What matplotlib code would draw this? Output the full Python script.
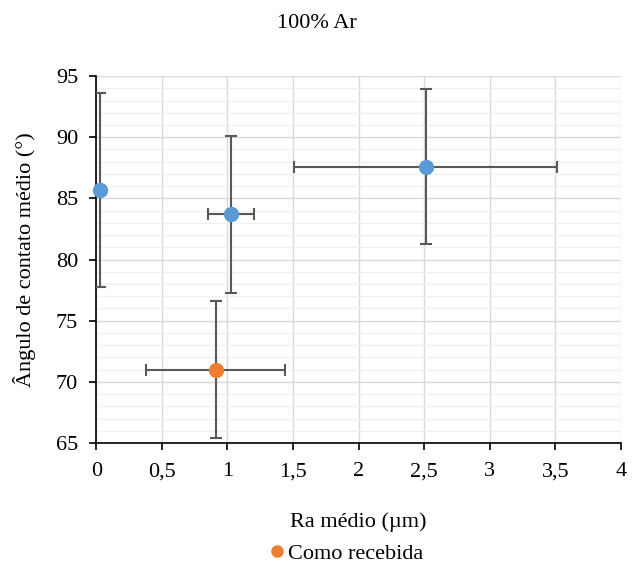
import numpy as np
import matplotlib.pyplot as plt
from matplotlib.ticker import MultipleLocator, FuncFormatter

# tratadas (azul)
ra_trat = [0.03, 1.03, 2.51]
ang_trat = [85.7, 83.7, 87.6]
ra_trat_err = [0.0, 0.175, 1.0]
ang_trat_err = [7.95, 6.4, 6.35]

# como recebida (laranja)
ra_rec = [0.91]
ang_rec = [71.0]
ra_rec_err = [0.53]
ang_rec_err = [5.6]

plt.rcParams['font.family'] = ['Liberation Serif', 'DejaVu Serif']
plt.rcParams['font.size'] = 16

fig = plt.figure(figsize=(6.33, 5.68), dpi=100)
ax = fig.add_axes([0.152, 0.22, 0.829, 0.646])

errcol = '#595959'
for art in [
    ax.errorbar(ra_trat, ang_trat, xerr=ra_trat_err, yerr=ang_trat_err, fmt='o',
                color='#5B9BD5', markersize=10, ecolor=errcol, elinewidth=1.5,
                capsize=4.5, capthick=1.5, zorder=3),
    ax.errorbar(ra_rec, ang_rec, xerr=ra_rec_err, yerr=ang_rec_err, fmt='o',
                color='#ED7D31', markersize=10, ecolor=errcol, elinewidth=1.5,
                capsize=4.5, capthick=1.5, zorder=3, label='Como recebida')]:
    art[0].set_clip_on(False)

ax.set_xlim(0, 4)
ax.set_ylim(65, 95)
ax.xaxis.set_major_locator(MultipleLocator(0.5))
ax.yaxis.set_major_locator(MultipleLocator(5))
ax.yaxis.set_minor_locator(MultipleLocator(1))
ax.xaxis.set_major_formatter(FuncFormatter(lambda v, p: ('%g' % v).replace('.', ',')))

ax.grid(which='major', color='#D9D9D9', linewidth=1.0, zorder=0)
ax.grid(which='minor', axis='y', color='#F0F0F0', linewidth=1.0, zorder=0)
ax.set_axisbelow(True)

for s in ['top', 'right']:
    ax.spines[s].set_visible(False)
for s in ['left', 'bottom']:
    ax.spines[s].set_color('black')
    ax.spines[s].set_linewidth(1.2)
ax.tick_params(which='major', direction='out', length=5, width=1.2, color='black')
ax.tick_params(which='minor', length=0)
ax.tick_params(axis='x', pad=9)
ax.tick_params(axis='y', pad=8)

ax.set_xlabel('Ra médio (µm)', labelpad=22)
ax.set_ylabel('Ângulo de contato médio (°)', labelpad=14)
fig.suptitle('100% Ar', y=0.975, fontsize=16)

h, l = ax.get_legend_handles_labels()
fig.legend([h[0][0]], l, loc='center', bbox_to_anchor=(0.545, 0.025), frameon=False,
           handletextpad=0.0, handlelength=1.0, markerscale=0.8)

fig.savefig('out.png', dpi=100)
